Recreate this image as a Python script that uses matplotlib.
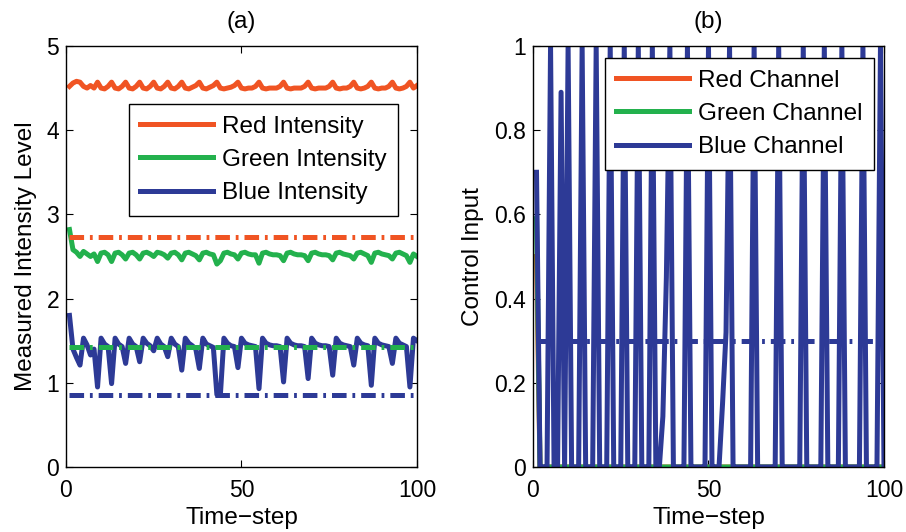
import numpy as np
import matplotlib.pyplot as plt

plt.rcParams['font.family'] = ['Liberation Sans', 'DejaVu Sans']
plt.rcParams['lines.scale_dashes'] = False

RED = '#F05423'
GREEN = '#23B14D'
BLUE = '#2D3A96'

TICK_FS = 16.5
LABEL_FS = 17.5

steps = np.arange(1, 101)

# measured intensity per channel
red_level = [
    4.52, 4.56, 4.58, 4.57, 4.52, 4.50, 4.53, 4.50, 4.57, 4.50,
    4.49, 4.52, 4.57, 4.50, 4.49, 4.52, 4.57, 4.50, 4.49, 4.52,
    4.57, 4.50, 4.49, 4.52, 4.57, 4.50, 4.49, 4.52, 4.57, 4.50,
    4.49, 4.52, 4.57, 4.50, 4.49, 4.51, 4.53, 4.57, 4.50, 4.49,
    4.51, 4.53, 4.57, 4.50, 4.49, 4.50, 4.51, 4.53, 4.57, 4.50,
    4.49, 4.50, 4.50, 4.52, 4.57, 4.50, 4.49, 4.50, 4.50, 4.50,
    4.52, 4.57, 4.50, 4.49, 4.50, 4.50, 4.50, 4.52, 4.57, 4.50,
    4.49, 4.50, 4.50, 4.50, 4.52, 4.57, 4.50, 4.49, 4.50, 4.50,
    4.52, 4.57, 4.50, 4.49, 4.50, 4.52, 4.57, 4.50, 4.49, 4.50,
    4.50, 4.52, 4.57, 4.50, 4.49, 4.50, 4.52, 4.57, 4.50, 4.53,
]
green_level = [
    2.82, 2.58, 2.55, 2.50, 2.56, 2.53, 2.50, 2.53, 2.44, 2.54,
    2.55, 2.52, 2.44, 2.54, 2.55, 2.52, 2.47, 2.54, 2.55, 2.52,
    2.47, 2.54, 2.55, 2.53, 2.50, 2.55, 2.54, 2.52, 2.48, 2.54,
    2.55, 2.52, 2.46, 2.54, 2.55, 2.53, 2.51, 2.46, 2.54, 2.55,
    2.53, 2.52, 2.41, 2.45, 2.54, 2.55, 2.53, 2.52, 2.47, 2.54,
    2.55, 2.53, 2.52, 2.52, 2.42, 2.54, 2.55, 2.53, 2.52, 2.52,
    2.51, 2.45, 2.54, 2.55, 2.53, 2.52, 2.52, 2.51, 2.45, 2.54,
    2.55, 2.53, 2.52, 2.52, 2.51, 2.46, 2.54, 2.55, 2.53, 2.52,
    2.51, 2.47, 2.54, 2.55, 2.53, 2.51, 2.43, 2.54, 2.55, 2.53,
    2.52, 2.51, 2.47, 2.54, 2.55, 2.53, 2.51, 2.43, 2.53, 2.50,
]
blue_level = [
    1.80, 1.40, 1.30, 1.21, 1.53, 1.45, 1.33, 1.40, 0.95, 1.53,
    1.46, 1.43, 0.99, 1.53, 1.46, 1.43, 1.23, 1.53, 1.46, 1.43,
    1.25, 1.53, 1.47, 1.44, 1.38, 1.53, 1.46, 1.43, 1.31, 1.53,
    1.46, 1.43, 1.15, 1.53, 1.47, 1.44, 1.40, 1.17, 1.53, 1.46,
    1.44, 1.42, 0.86, 0.86, 1.53, 1.47, 1.44, 1.43, 1.18, 1.53,
    1.47, 1.45, 1.44, 1.43, 0.93, 1.53, 1.47, 1.45, 1.44, 1.44,
    1.43, 1.01, 1.53, 1.47, 1.45, 1.44, 1.44, 1.43, 1.05, 1.53,
    1.47, 1.45, 1.44, 1.44, 1.43, 1.09, 1.53, 1.47, 1.45, 1.44,
    1.43, 1.21, 1.53, 1.47, 1.45, 1.44, 0.97, 1.53, 1.47, 1.45,
    1.44, 1.43, 1.23, 1.53, 1.47, 1.45, 1.43, 0.95, 1.53, 1.50,
]
red_target = 2.73
green_target = 1.42
blue_target = 0.85

# control input per channel
red_input = [
    0.50, 0, 0, 0, 0, 0, 0, 0, 0, 0, 0, 0, 0, 0, 0, 0, 0, 0, 0, 0,
    0, 0, 0, 0, 0, 0, 0, 0, 0, 0, 0, 0, 0, 0, 0, 0, 0, 0, 0, 0,
    0, 0, 0, 0, 0, 0, 0, 0, 0, 0, 0, 0, 0, 0, 0, 0, 0, 0, 0, 0,
    0, 0, 0, 0, 0, 0, 0, 0, 0, 0, 0, 0, 0, 0, 0, 0, 0, 0, 0, 0,
    0, 0, 0, 0, 0, 0, 0, 0, 0, 0, 0, 0, 0, 0, 0, 0, 0, 0, 0, 0,
]
green_input = [
    0.59, 0, 0, 0, 0, 0, 0, 0, 0, 0, 0, 0, 0, 0, 0, 0, 0, 0, 0, 0,
    0, 0, 0, 0, 0, 0, 0, 0, 0, 0, 0, 0, 0, 0, 0, 0, 0, 0, 0, 0,
    0, 0, 0, 0, 0, 0, 0, 0, 0, 0, 0, 0, 0, 0, 0, 0, 0, 0, 0, 0,
    0, 0, 0, 0, 0, 0, 0, 0, 0, 0, 0, 0, 0, 0, 0, 0, 0, 0, 0, 0,
    0, 0, 0, 0, 0, 0, 0, 0, 0, 0, 0, 0, 0, 0, 0, 0, 0, 0, 0, 0,
]
blue_input = [
    0.70, 0, 0, 0, 1, 0, 0, 0.89, 0, 1,
    0, 0, 0, 1, 0, 0, 0, 1, 0, 0,
    0, 1, 0, 0, 0, 1, 0, 0, 0, 1,
    0, 0, 0, 1, 0, 0, 0.12, 0.45, 1, 0,
    0, 0, 0, 1, 0, 0, 0, 0, 0, 1,
    0, 0, 0, 0.15, 0.32, 1, 0, 0, 0, 0,
    0, 0, 1, 0, 0, 0, 0, 0, 0, 1,
    0, 0, 0, 0, 0, 0, 1, 0, 0, 0,
    0, 0, 1, 0, 0, 0, 0, 1, 0, 0,
    0, 0, 0, 1, 0, 0, 0, 0, 1, 0,
]
blue_input_ref = 0.3

LW = 3.6
DASHDOT = (0, (10.5, 4.2, 2.0, 4.3))


def style_axes(ax):
    ax.set_xlim(0, 100)
    ax.set_xticks([0, 50, 100])
    ax.tick_params(direction='in', top=True, right=True, length=5,
                   width=0.8, labelsize=TICK_FS)
    ax.tick_params(axis='x', pad=8.5)
    ax.tick_params(axis='y', pad=5)
    for s in ax.spines.values():
        s.set_linewidth(1.0)
    ax.set_xlabel('Time\u2212step', fontsize=LABEL_FS, labelpad=4)


def add_legend(ax, anchor):
    leg = ax.legend(loc='upper right', bbox_to_anchor=anchor,
                    fontsize=LABEL_FS, fancybox=False, framealpha=1,
                    edgecolor='black', handlelength=3.0, handletextpad=0.35,
                    labelspacing=0.46, borderpad=0.48, borderaxespad=0)
    leg.get_frame().set_linewidth(1.0)


fig = plt.figure(figsize=(9.06, 5.32), dpi=100)
ax1 = fig.add_axes([0.0728, 0.1222, 0.3874, 0.7914])
ax2 = fig.add_axes([0.5883, 0.1222, 0.3874, 0.7914])

ax1.plot(steps, red_level, color=RED, lw=LW, label='Red Intensity')
ax1.plot(steps, green_level, color=GREEN, lw=LW, label='Green Intensity')
ax1.plot(steps, blue_level, color=BLUE, lw=LW, label='Blue Intensity')
for val, c in [(red_target, RED), (green_target, GREEN), (blue_target, BLUE)]:
    ax1.plot([1, 100], [val, val], color=c, lw=LW, linestyle=DASHDOT)
ax1.set_ylim(0, 5)
ax1.set_yticks(range(6))
style_axes(ax1)
ax1.set_ylabel('Measured Intensity Level', fontsize=LABEL_FS, labelpad=7)
ax1.set_title('(a)', fontsize=LABEL_FS, pad=13)
add_legend(ax1, (0.946, 0.862))

ax2.plot(steps, red_input, color=RED, lw=LW, label='Red Channel')
ax2.plot(steps, green_input, color=GREEN, lw=LW, label='Green Channel')
ax2.plot(steps, blue_input, color=BLUE, lw=LW, label='Blue Channel')
ax2.plot([1, 100], [blue_input_ref, blue_input_ref], color=BLUE, lw=LW,
         linestyle=DASHDOT)
ax2.set_ylim(0, 1)
ax2.set_yticks(np.arange(0, 1.01, 0.2))
ax2.set_yticklabels(['0', '0.2', '0.4', '0.6', '0.8', '1'])
style_axes(ax2)
ax2.set_ylabel('Control Input', fontsize=LABEL_FS, labelpad=7)
ax2.set_title('(b)', fontsize=LABEL_FS, pad=13)
add_legend(ax2, (0.9715, 0.9715))

fig.savefig('out.png', dpi=100)
